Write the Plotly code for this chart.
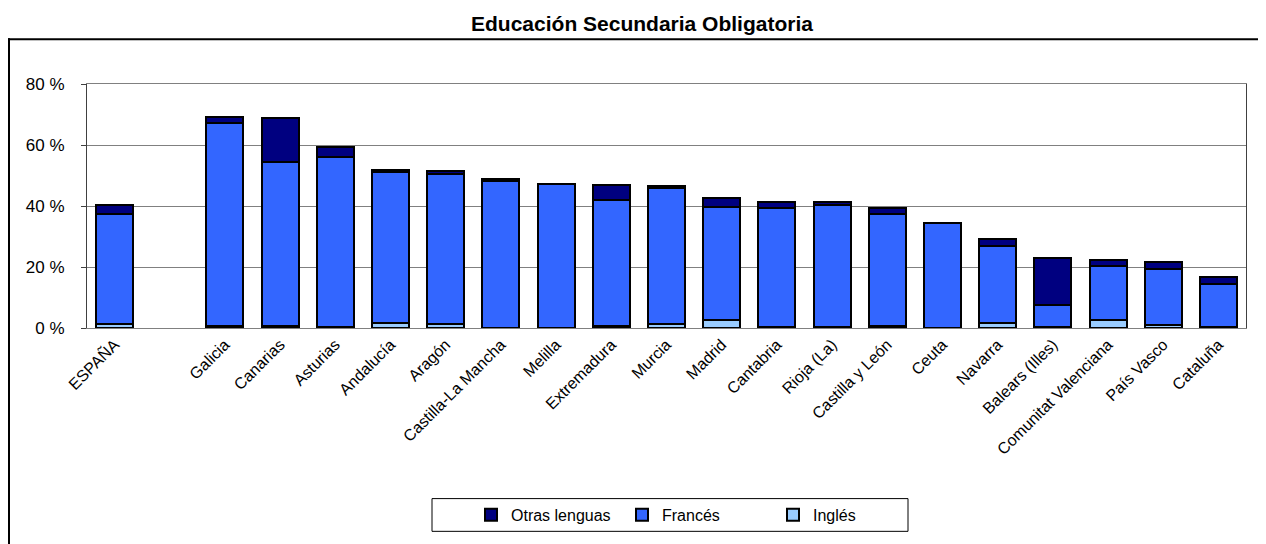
import plotly.graph_objects as go

categories = ["ESPAÑA", " ", "Galicia", "Canarias", "Asturias", "Andalucía", "Aragón",
              "Castilla-La Mancha", "Melilla", "Extremadura", "Murcia", "Madrid",
              "Cantabria", "Rioja (La)", "Castilla y León", "Ceuta", "Navarra",
              "Balears (Illes)", "Comunitat Valenciana", "País Vasco", "Cataluña"]

ingles = [1.3, None, 0.5, 0.5, 0.3, 1.6, 1.2, 0.1, 0.1, 0.5, 1.3, 2.5,
          0.2, 0.2, 0.5, 0.1, 1.8, 0.2, 2.7, 1.1, 0.3]
frances = [36.2, None, 66.7, 53.8, 55.9, 49.6, 49.2, 48.2, 47.0, 41.5, 44.7, 37.1,
           39.1, 40.1, 37.0, 34.3, 25.0, 7.2, 17.6, 18.4, 14.0]
otras = [2.7, None, 2.0, 14.4, 3.2, 0.6, 1.1, 0.5, 0.1, 4.8, 0.6, 2.9,
         1.9, 0.9, 2.0, 0.1, 2.5, 15.7, 2.1, 2.0, 2.3]

series_names = ["Inglés", "Francés", "Otras lenguas"]
series_colors = ["#99CCFF", "#3366FF", "#000080"]
series_values = [ingles, frances, otras]

y_tick_vals = [0, 20, 40, 60, 80]
y_tick_text = ["0 %", "20 %", "40 %", "60 %", "80 %"]

FONT = "Arial, Liberation Sans, sans-serif"

fig = go.Figure()
for name, col, vals in zip(series_names, series_colors, series_values):
    fig.add_trace(go.Bar(
        x=categories, y=vals, name=name,
        marker=dict(color=col, line=dict(color="black", width=2)),
    ))

# page has an 8px body margin: figure coordinates = reference coordinates - 8
OFF = 8
W, H = 1258, 536
PL, PR, PT, PB = 87, 1246, 84, 330   # plot area in reference coordinates
L, R, T, B = PL - OFF, W - (PR - OFF), PT - OFF, H - (PB - OFF)
pw = PR - PL
ph = PB - PT


def px_x(x):
    return (x - PL) / pw


def px_y(y):
    return (PB - y) / ph


fig.update_layout(
    width=W, height=H,
    barmode="stack", bargap=0.33,
    plot_bgcolor="white", paper_bgcolor="white",
    margin=dict(l=L, r=R, t=T, b=B),
    font=dict(family=FONT, size=16, color="black"),
    title=dict(text="<b>Educación Secundaria Obligatoria</b>", x=(642 - OFF) / W,
               xanchor="center", y=1 - (24 - OFF) / H, yanchor="middle",
               font=dict(size=21, family=FONT)),
    xaxis=dict(type="category", categoryorder="array", categoryarray=categories,
               tickangle=-45, showgrid=False, showline=True, linecolor="#808080",
               linewidth=1, mirror=True, ticks="", tickfont=dict(size=16)),
    yaxis=dict(range=[0, 80], tickvals=y_tick_vals, ticktext=y_tick_text, showgrid=True,
               gridcolor="#808080", gridwidth=1, showline=True, linecolor="#404040",
               linewidth=1, mirror=True, ticks="outside", ticklen=5, tickcolor="#404040",
               tickfont=dict(size=17), zeroline=False, ticklabelstandoff=13),
    legend=dict(orientation="h", traceorder="reversed", x=px_x(471), xanchor="left",
                y=px_y(518.5), yanchor="middle", font=dict(size=16),
                entrywidth=106, bgcolor="rgba(0,0,0,0)"),
    showlegend=True,
    shapes=[
        # outer chart border (top and left edges visible in the frame)
        dict(type="line", xref="paper", yref="paper",
             x0=px_x(8), x1=px_x(1300), y0=px_y(39), y1=px_y(39),
             line=dict(color="black", width=2), layer="below"),
        dict(type="line", xref="paper", yref="paper",
             x0=px_x(9), x1=px_x(9), y0=px_y(38), y1=px_y(600),
             line=dict(color="black", width=2), layer="below"),
        # legend frame
        dict(type="rect", xref="paper", yref="paper",
             x0=px_x(432), x1=px_x(908), y0=px_y(535), y1=px_y(502),
             line=dict(color="black", width=1), fillcolor="rgba(0,0,0,0)"),
    ],
)

fig.write_html("out.html", config={"displayModeBar": False})
